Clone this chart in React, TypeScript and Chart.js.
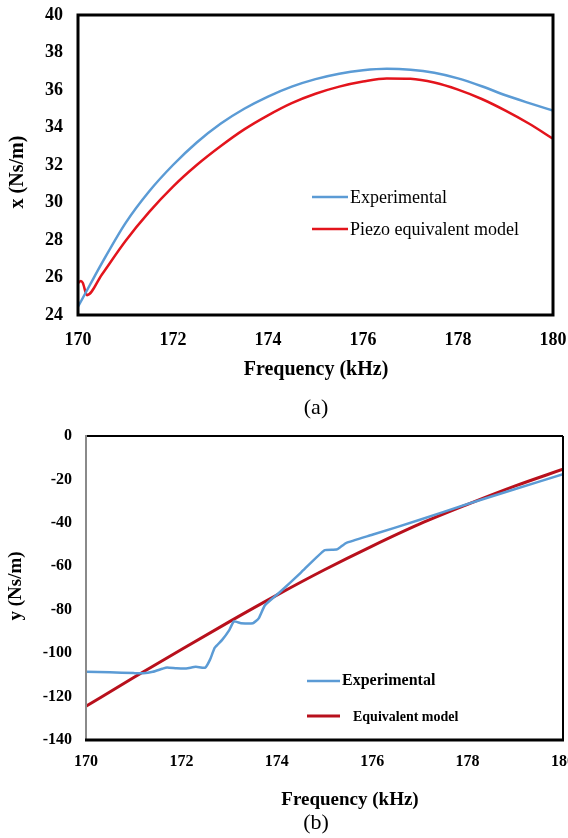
import React, { useEffect, useRef } from "react";
import { Chart, registerables } from "chart.js";

Chart.register(...registerables);

const SERIF = '"Liberation Serif", "Times New Roman", Times, serif';

// ---- Panel (a): x (Ns/m) vs frequency ----
const aExpFreq = [170, 170.25, 170.5, 171, 171.5, 172, 172.5, 173, 173.5, 174, 174.5, 175, 175.5, 176, 176.5, 177, 177.5, 178, 178.5, 179, 179.5, 180];
const aExpVal = [24.44, 25.6, 26.75, 28.9, 30.6, 32.0, 33.2, 34.2, 35.0, 35.65, 36.18, 36.58, 36.87, 37.05, 37.13, 37.08, 36.92, 36.62, 36.2, 35.72, 35.3, 34.9];
const aModelFreq = [170, 170.06, 170.1, 170.19, 170.5, 171, 171.5, 172, 172.5, 173, 173.5, 174, 174.5, 175, 175.5, 176, 176.5, 177, 177.5, 178, 178.5, 179, 179.5, 180];
const aModelVal = [25.7, 25.82, 25.72, 25.06, 26.15, 27.95, 29.5, 30.85, 32.0, 33.0, 33.9, 34.65, 35.3, 35.8, 36.18, 36.45, 36.62, 36.6, 36.4, 36.02, 35.52, 34.9, 34.2, 33.4];
const aFreqTicks = [170, 172, 174, 176, 178, 180];
const aValTicks = [24, 26, 28, 30, 32, 34, 36, 38, 40];
const aLegend = ["Experimental", "Piezo equivalent model"];

// ---- Panel (b): y (Ns/m) vs frequency ----
const bExpFreq = [170, 170.5, 171, 171.2, 171.4, 171.6, 171.7, 171.9, 172.1, 172.3, 172.5, 172.6, 172.7, 172.85, 173, 173.1, 173.25, 173.5, 173.62, 173.75, 174.05, 174.5, 175, 175.25, 175.33, 175.45, 176, 177, 178, 179, 180];
const bExpVal = [-108.6, -108.8, -109.2, -109.3, -108.6, -107.2, -106.6, -107.0, -107.1, -106.3, -106.7, -103.0, -97.5, -94.0, -89.5, -85.4, -86.2, -86.2, -84.0, -78.0, -72.2, -63.0, -52.6, -52.3, -51.2, -49.3, -45.5, -38.6, -31.3, -24.4, -17.6];
const bModelFreq = [170, 171, 172, 173, 174, 175, 176, 177, 178, 179, 180];
const bModelVal = [-124.5, -111.2, -98.3, -85.6, -73.3, -61.6, -50.7, -40.5, -31.5, -23.0, -15.3];
const bFreqTicks = [170, 172, 174, 176, 178, 180];
const bValTicks = [-140, -120, -100, -80, -60, -40, -20, 0];
const bLegend = ["Experimental", "Equivalent model"];

const toPoints = (xs: number[], ys: number[]) => xs.map((x, i) => ({ x, y: ys[i] }));

type Decor = {
  frame: (ctx: CanvasRenderingContext2D, a: { left: number; right: number; top: number; bottom: number }) => void;
  texts: (ctx: CanvasRenderingContext2D) => void;
};

const decorPlugin = (d: Decor) => ({
  id: "panelDecor",
  afterDatasetsDraw(chart: any) {
    const ctx = chart.ctx as CanvasRenderingContext2D;
    ctx.save();
    d.frame(ctx, chart.chartArea);
    d.texts(ctx);
    ctx.restore();
  },
});

function line(ctx: CanvasRenderingContext2D, x1: number, y1: number, x2: number, y2: number, color: string, w: number) {
  ctx.beginPath();
  ctx.strokeStyle = color;
  ctx.lineWidth = w;
  ctx.moveTo(x1, y1);
  ctx.lineTo(x2, y2);
  ctx.stroke();
}

function text(ctx: CanvasRenderingContext2D, s: string, x: number, y: number, font: string, align: CanvasTextAlign, rotate = false) {
  ctx.save();
  ctx.font = font;
  ctx.fillStyle = "#000";
  ctx.textAlign = align;
  ctx.textBaseline = "middle";
  ctx.translate(x, y);
  if (rotate) ctx.rotate(-Math.PI / 2);
  ctx.fillText(s, 0, 0);
  ctx.restore();
}

function axes(ticksX: number[], ticksY: number[], size: number, xH: number, yW: number, xPad: number, yPad: number, yMin: number, yMax: number) {
  const font = { family: SERIF, size, weight: "bold" as const };
  return {
    x: {
      type: "linear" as const,
      min: 170,
      max: 180,
      grid: { display: false, drawTicks: false },
      border: { display: false },
      ticks: { font, color: "#000", padding: xPad, maxRotation: 0, autoSkip: false },
      afterBuildTicks: (axis: any) => {
        axis.ticks = ticksX.map((value) => ({ value }));
      },
      afterFit: (axis: any) => {
        axis.height = xH;
        axis.paddingLeft = 0;
        axis.paddingRight = 0;
      },
    },
    y: {
      type: "linear" as const,
      min: yMin,
      max: yMax,
      grid: { display: false, drawTicks: false },
      border: { display: false },
      ticks: { font, color: "#000", padding: yPad, autoSkip: false },
      afterBuildTicks: (axis: any) => {
        axis.ticks = ticksY.map((value) => ({ value }));
      },
      afterFit: (axis: any) => {
        axis.width = yW;
        axis.paddingTop = 0;
        axis.paddingBottom = 0;
      },
    },
  };
}

function PanelA() {
  const ref = useRef<HTMLCanvasElement>(null);
  useEffect(() => {
    const blue = "#5B9BD5";
    const red = "#E3141C";
    const chart = new Chart(ref.current!, {
      type: "line",
      data: {
        datasets: [
          { label: aLegend[0], data: toPoints(aExpFreq, aExpVal), borderColor: blue, borderWidth: 2.5, pointRadius: 0, cubicInterpolationMode: "monotone" },
          { label: aLegend[1], data: toPoints(aModelFreq, aModelVal), borderColor: red, borderWidth: 2.5, pointRadius: 0, cubicInterpolationMode: "monotone" },
        ],
      },
      options: {
        responsive: false,
        animation: false,
        layout: { padding: { top: 15, right: 15, left: 0, bottom: 0 } },
        plugins: { legend: { display: false }, tooltip: { enabled: false } },
        scales: axes(aFreqTicks, aValTicks, 18, 105, 78, 15, 15, 24, 40) as any,
      },
      plugins: [
        decorPlugin({
          frame: (ctx, a) => {
            ctx.strokeStyle = "#000";
            ctx.lineWidth = 3;
            ctx.strokeRect(a.left, a.top, a.right - a.left, a.bottom - a.top);
          },
          texts: (ctx) => {
            line(ctx, 312, 197, 348, 197, blue, 2.5);
            line(ctx, 312, 229, 348, 229, red, 2.5);
            text(ctx, aLegend[0], 350, 198, `18px ${SERIF}`, "left");
            text(ctx, aLegend[1], 350, 230, `18px ${SERIF}`, "left");
            text(ctx, "Frequency (kHz)", 316, 370, `bold 20px ${SERIF}`, "center");
            text(ctx, "x (Ns/m)", 18, 172, `bold 20px ${SERIF}`, "center", true);
            text(ctx, "(a)", 316, 408, `22px ${SERIF}`, "center");
          },
        }),
      ],
    });
    return () => chart.destroy();
  }, []);
  return <canvas ref={ref} width={568} height={420} style={{ position: "absolute", left: 0, top: 0 }} />;
}

function PanelB() {
  const ref = useRef<HTMLCanvasElement>(null);
  useEffect(() => {
    const blue = "#5B9BD5";
    const red = "#B8101C";
    const chart = new Chart(ref.current!, {
      type: "line",
      data: {
        datasets: [
          { label: bLegend[0], data: toPoints(bExpFreq, bExpVal), borderColor: blue, borderWidth: 2.5, pointRadius: 0, tension: 0.15 },
          { label: bLegend[1], data: toPoints(bModelFreq, bModelVal), borderColor: red, borderWidth: 3, pointRadius: 0, cubicInterpolationMode: "monotone" },
        ],
      },
      options: {
        responsive: false,
        animation: false,
        layout: { padding: { top: 16, right: 5, left: 0, bottom: 0 } },
        plugins: { legend: { display: false }, tooltip: { enabled: false } },
        scales: axes(bFreqTicks, bValTicks, 16, 98, 86, 12, 14, -140, 0) as any,
      },
      plugins: [
        decorPlugin({
          frame: (ctx, a) => {
            line(ctx, a.left, a.top, a.right, a.top, "#000", 2);
            line(ctx, a.right, a.top, a.right, a.bottom, "#000", 2);
            line(ctx, a.left, a.top - 1, a.left, a.bottom, "#8a8a8a", 2);
            line(ctx, a.left - 1, a.bottom, a.right + 1, a.bottom, "#000", 3);
          },
          texts: (ctx) => {
            line(ctx, 307, 261, 340, 261, blue, 2.5);
            line(ctx, 307, 296, 340, 296, red, 3);
            text(ctx, bLegend[0], 342, 261, `bold 16px ${SERIF}`, "left");
            text(ctx, bLegend[1], 353, 297, `bold 14px ${SERIF}`, "left");
            text(ctx, "Frequency (kHz)", 350, 380, `bold 19px ${SERIF}`, "center");
            text(ctx, "y (Ns/m)", 16, 166, `bold 19px ${SERIF}`, "center", true);
            text(ctx, "(b)", 316, 403, `22px ${SERIF}`, "center");
          },
        }),
      ],
    });
    return () => chart.destroy();
  }, []);
  return <canvas ref={ref} width={568} height={418} style={{ position: "absolute", left: 0, top: 420 }} />;
}

export default function App() {
  return (
    <div style={{ position: "absolute", left: 0, top: 0, width: 568, height: 838, background: "#fff" }}>
      <PanelA />
      <PanelB />
    </div>
  );
}
